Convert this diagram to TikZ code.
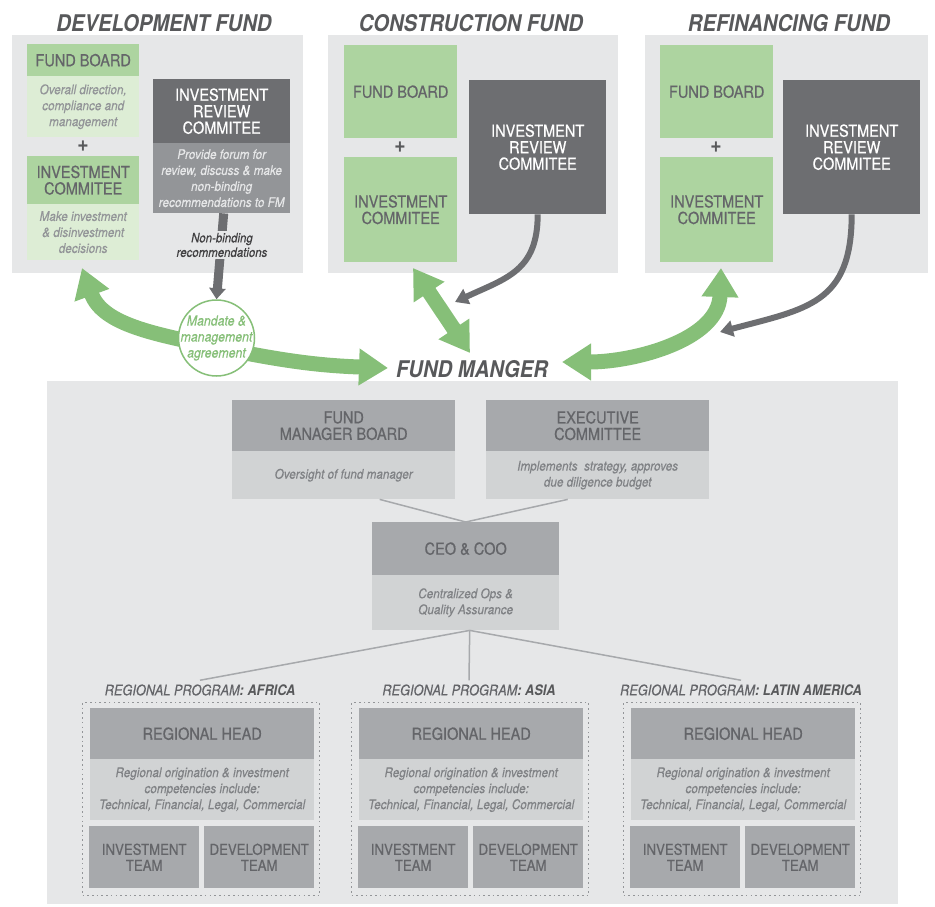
\documentclass[tikz,border=0pt]{standalone}
\usepackage{fontspec}
\setmainfont{TeX Gyre Heros}[FakeStretch=0.88, UprightFeatures={FakeBold=0.6}, ItalicFeatures={FakeBold=0.3}]
\usetikzlibrary{arrows.meta}

\definecolor{panelgrey}{HTML}{E6E7E8}
\definecolor{greenhd}{HTML}{ADD4A0}
\definecolor{greenlt}{HTML}{DDEDD5}
\definecolor{greenarr}{HTML}{86BF78}
\definecolor{darkbox}{HTML}{6D6E71}
\definecolor{midbox}{HTML}{939598}
\definecolor{fmhead}{HTML}{A7A9AC}
\definecolor{fmdesc}{HTML}{D1D3D4}
\definecolor{titlegrey}{HTML}{58595B}
\definecolor{headtext}{HTML}{646569}
\definecolor{desctext}{HTML}{808285}
\definecolor{lighttext}{HTML}{939598}
\definecolor{darktext}{HTML}{414042}

\tikzset{
  wh/.style 2 args={minimum width=#1, minimum height=#2},
  box/.style={anchor=north west, inner sep=0pt, align=center},
  panel/.style={box, fill=panelgrey},
  head/.style={box, text=headtext, font=\fontsize{16.5}{16.5}\selectfont},
  team/.style={box, text=headtext, font=\fontsize{15}{16}\selectfont},
  desc/.style={box, text=desctext, font=\fontsize{13.3}{16}\selectfont\itshape},
  title/.style={text=titlegrey, font=\fontsize{23}{23}\selectfont\bfseries\itshape},
  plus/.style={text=titlegrey, font=\fontsize{22}{22}\selectfont\bfseries},
  reglabel/.style={text=headtext, inner sep=4pt, font=\fontsize{14.5}{14.5}\selectfont\itshape},
  nblabel/.style={fill=panelgrey, inner sep=1.5pt, align=center, text=darktext, font=\fontsize{13}{14.5}\selectfont\itshape},
  mandtext/.style={align=center, text=greenarr, font=\fontsize{14}{16}\selectfont\itshape},
  greenarrow/.style={draw=greenarr, line width=15pt, -{Triangle[width=35pt,length=29pt]}},
  greenboth/.style={draw=greenarr, line width=15pt, {Triangle[width=35pt,length=29pt]}-{Triangle[width=35pt,length=29pt]}},
  greyarrow/.style={draw=darkbox, line width=6pt, -{Triangle[width=16pt,length=13pt]}},
  conn/.style={draw=fmhead, line width=1.5pt},
  dotbox/.style={draw=midbox, line width=1.2pt, dash pattern=on 1.6pt off 3.1pt},
}

\begin{document}
\begin{tikzpicture}[x=1pt,y=1pt]
\useasboundingbox (0,0) rectangle (935,-907);

%fund panels
\node[panel, wh={291pt}{238pt}] (dpan) at (12,-35) {};
\node[panel, wh={290pt}{238pt}] (cpan) at (328,-35) {};
\node[panel, wh={283pt}{238pt}] (rpan) at (645,-35) {};
\node[panel, wh={851pt}{523pt}] (fmpan) at (47,-381) {};

%titles
\node[title] (dtit) at (164,-23) {DEVELOPMENT FUND};
\node[title] (ctit) at (471,-23) {CONSTRUCTION FUND};
\node[title] (rtit) at (789,-23) {REFINANCING FUND};

%development fund
\node[head, fill=greenhd, wh={112pt}{32pt}] (dfb) at (27,-44) {FUND BOARD};
\node[desc, fill=greenlt, text=lighttext, wh={112pt}{61pt}] (dfbd) at (27,-76) {Overall direction,\\compliance and\\management};
\node[plus] (dplus) at (83,-146) {+};
\node[head, fill=greenhd, wh={112pt}{48pt}] (dic) at (27,-156) {INVESTMENT\\COMMITEE};
\node[desc, fill=greenlt, text=lighttext, wh={112pt}{56pt}] (dicd) at (27,-204) {Make investment\\\& disinvestment\\decisions};
\node[head, fill=darkbox, text=white, wh={137pt}{64pt}] (dirc) at (153,-79) {INVESTMENT\\REVIEW\\COMMITEE};
\node[desc, fill=midbox, text=panelgrey, wh={137pt}{70pt}] (dircd) at (153,-143) {Provide forum for\\review, discuss \& make\\non-binding\\recommendations to FM};

%construction fund
\node[head, fill=greenhd, wh={113pt}{93pt}] (cfb) at (344,-45) {FUND BOARD};
\node[plus] (cplus) at (400,-147) {+};
\node[head, fill=greenhd, wh={113pt}{105pt}] (cic) at (344,-157) {INVESTMENT\\COMMITEE};
\node[head, fill=darkbox, text=white, wh={137pt}{134pt}] (circ) at (469,-80) {INVESTMENT\\REVIEW\\COMMITEE};

%refinancing fund
\node[head, fill=greenhd, wh={113pt}{93pt}] (rfb) at (660,-45) {FUND BOARD};
\node[plus] (rplus) at (716,-147) {+};
\node[head, fill=greenhd, wh={113pt}{105pt}] (ric) at (660,-157) {INVESTMENT\\COMMITEE};
\node[head, fill=darkbox, text=white, wh={137pt}{134pt}] (rirc) at (783,-80) {INVESTMENT\\REVIEW\\COMMITEE};

%fund manager
\node[head, fill=fmhead, wh={223pt}{51pt}] (fmb) at (232,-400) {FUND\\MANAGER BOARD};
\node[desc, fill=fmdesc, wh={223pt}{48pt}] (fmbd) at (232,-451) {Oversight of fund manager};
\node[head, fill=fmhead, wh={223pt}{51pt}] (exc) at (486,-400) {EXECUTIVE\\COMMITTEE};
\node[desc, fill=fmdesc, wh={223pt}{48pt}] (excd) at (486,-451) {Implements~ strategy, approves\\due diligence budget};
\node[head, fill=fmhead, wh={187pt}{53pt}] (ceo) at (372,-522) {CEO \& COO};
\node[desc, fill=fmdesc, wh={187pt}{55pt}] (ceod) at (372,-575) {Centralized Ops \&\\Quality Assurance};
\draw[conn] ([xshift=36pt]fmbd.south) -- (ceo.north);
\draw[conn] ([xshift=-30pt]excd.south) -- (ceo.north);

%regional programs
\foreach \L/\reg/\nm in {82/AFRICA/af, 351/ASIA/as, 623/LATIN AMERICA/la}{
  \node[reglabel] (lab\nm) at (\L+118,-690) {REGIONAL PROGRAM\textcolor{titlegrey}{\bfseries: \reg}};
  \node[box, dotbox, wh={237pt}{193pt}] (reg\nm) at (\L,-702) {};
  \node[head, fill=fmhead, wh={224pt}{51pt}] (rh\nm) at (\L+8,-708) {REGIONAL HEAD};
  \node[desc, fill=fmdesc, wh={224pt}{61pt}] (rhd\nm) at (\L+8,-759) {Regional origination \& investment\\competencies include:\\Technical, Financial, Legal, Commercial};
  \node[team, fill=fmhead, wh={110pt}{62pt}] (inv\nm) at (\L+7,-826) {INVESTMENT\\TEAM};
  \node[team, fill=fmhead, wh={110pt}{62pt}] (dev\nm) at (\L+122,-826) {DEVELOPMENT\\TEAM};
  \draw[conn] ([xshift=4pt]ceod.south) -- (lab\nm.north);
}

%green arrows
\coordinate (mandc) at (216.5,-338);
\coordinate (dtip) at (82,-268);
\coordinate (dmid) at (216,-347);
\coordinate (fmtip) at (388,-368);
\draw[greenboth] (dtip) to[out=-70, in=168] (dmid) to[out=-12, in=178] (fmtip);
\coordinate (cup) at (413,-268);
\coordinate (cdn) at (470,-353);
\draw[greenboth] (cup) -- (cdn);
\coordinate (rleft) at (562,-362);
\coordinate (rup) at (721,-268);
\draw[greenboth] (rleft) to[out=0, in=-92] (rup);

%grey arrows
\coordinate (cgt) at (455,-302);
\draw[greyarrow] (circ.south) to[out=-90, in=25, looseness=1.2] (cgt);
\coordinate (rgt) at (720,-332);
\draw[greyarrow] (rirc.south) to[out=-90, in=15, looseness=1.3] (rgt);

%mandate circle
\node[circle, draw=greenarr, line width=1.5pt, fill=white, minimum size=76pt, inner sep=0pt] (mand) at (mandc) {};
\node[mandtext] (mandt) at (mandc) {Mandate \&\\management\\agreement};
\draw[greyarrow, line width=9pt, -{Triangle[width=16pt,length=11pt]}] ([xshift=2pt]dircd.south) -- (mand.north);
\node[nblabel] (nbl) at (222,-245) {Non-binding\\recommendations};

\node[title] (fm) at (472,-369) {FUND MANGER};
\end{tikzpicture}
\end{document}
